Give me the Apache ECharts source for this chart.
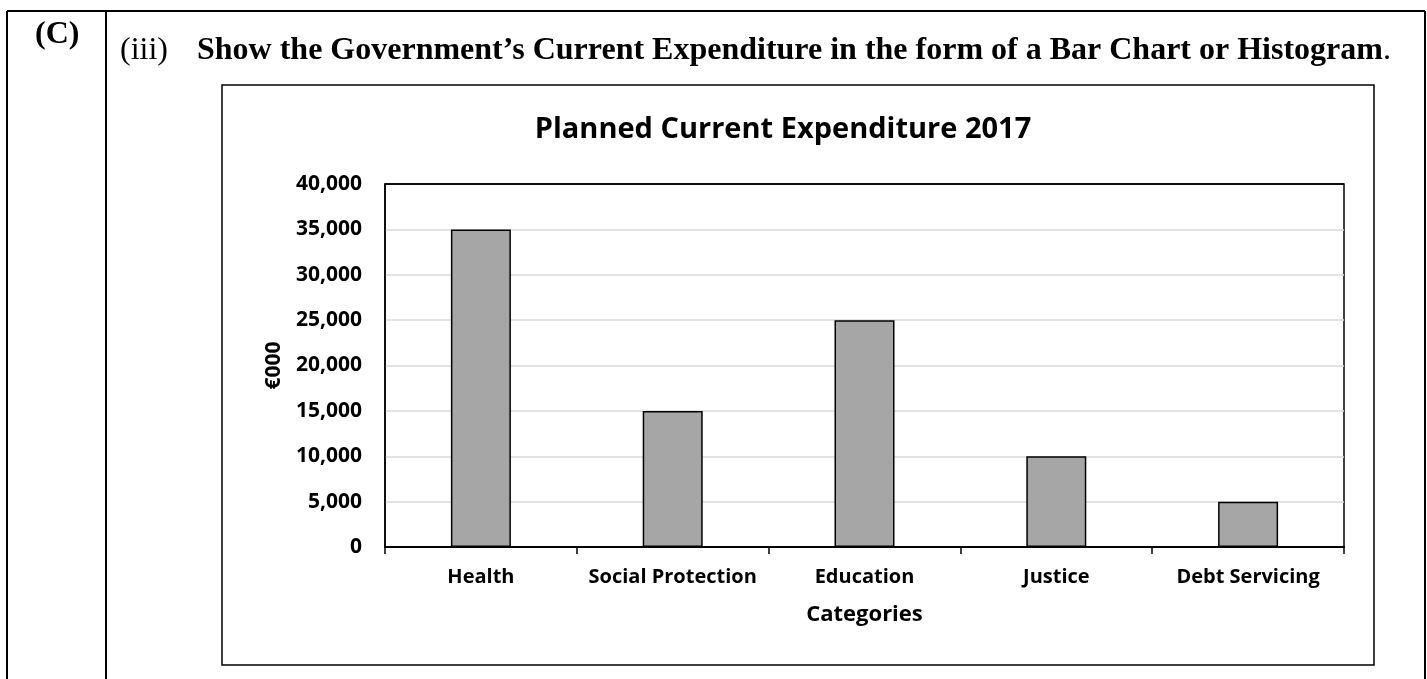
<!DOCTYPE html>
<html>
<head>
<meta charset="utf-8">
<script src="https://cdn.jsdelivr.net/npm/echarts@6/dist/echarts.min.js"></script>
<style>
html,body{margin:0;padding:0;background:#fff;}
#c{width:1427px;height:679px;}
</style>
</head>
<body>
<div id="c"></div>
<script>
const categories = ['Health', 'Social Protection', 'Education', 'Justice', 'Debt Servicing'];
const expenditure = [35000, 15000, 25000, 10000, 5000];
const chartTitle = 'Planned Current Expenditure 2017';
const yName = '€000';
const xName = 'Categories';
const sectionLabel = '(C)';
const partLabel = '(iii)';
const question = 'Show the Government\u2019s Current Expenditure in the form of a Bar Chart or Histogram';

const chart = echarts.init(document.getElementById('c'), null, {renderer: 'canvas'});
const sans = '"Open Sans", sans-serif';
const serif = '"Liberation Serif", "Times New Roman", serif';

chart.setOption({
  animation: false,
  backgroundColor: '#fff',
  title: {
    text: chartTitle,
    left: 778, top: 110, textAlign: 'center',
    textStyle: {fontFamily: sans, fontWeight: 'bold', fontSize: 29, color: '#000'}
  },
  grid: {
    left: 385, top: 184, right: 83, bottom: 132,
    show: true, borderColor: '#000', borderWidth: 1.5, backgroundColor: 'transparent'
  },
  xAxis: {
    type: 'category',
    data: categories,
    name: xName,
    nameLocation: 'middle',
    nameGap: 57,
    nameTextStyle: {fontFamily: sans, fontWeight: 'bold', fontSize: 22, color: '#000'},
    axisLine: {lineStyle: {color: '#000', width: 2}},
    axisTick: {show: true, alignWithLabel: false, length: 7, lineStyle: {color: '#000', width: 1.5}},
    axisLabel: {fontFamily: sans, fontWeight: 'bold', fontSize: 20, color: '#000', margin: 20, interval: 0}
  },
  yAxis: {
    type: 'value',
    min: 0, max: 40000, interval: 5000,
    name: yName,
    nameLocation: 'middle',
    nameRotate: 90,
    nameGap: 100,
    nameTextStyle: {fontFamily: sans, fontWeight: 'bold', fontSize: 21, color: '#000'},
    axisLine: {show: true, lineStyle: {color: '#000', width: 1.5}},
    axisTick: {show: false},
    splitLine: {showMaxLine: false, lineStyle: {color: '#D9D9D9', width: 1.5}},
    axisLabel: {
      fontFamily: sans, fontWeight: 'bold', fontSize: 21, color: '#000', margin: 23,
      formatter: v => v.toLocaleString('en-US')
    }
  },
  series: [{
    type: 'bar',
    data: expenditure,
    barWidth: 60,
    itemStyle: {color: '#A6A6A6', borderColor: '#000', borderWidth: 1.5}
  }],
  graphic: [
    // table borders
    {type: 'line', shape: {x1: 7, y1: 11, x2: 1425, y2: 11}, style: {stroke: '#000', lineWidth: 2}},
    {type: 'line', shape: {x1: 7, y1: 11, x2: 7, y2: 679}, style: {stroke: '#000', lineWidth: 2}},
    {type: 'line', shape: {x1: 106, y1: 11, x2: 106, y2: 679}, style: {stroke: '#000', lineWidth: 2}},
    {type: 'line', shape: {x1: 1425, y1: 11, x2: 1425, y2: 679}, style: {stroke: '#000', lineWidth: 2}},
    // plot top border
    {type: 'line', shape: {x1: 385, y1: 184, x2: 1344, y2: 184}, style: {stroke: '#000', lineWidth: 1.5}, z: 10},
    // chart box
    {type: 'rect', shape: {x: 222, y: 85, width: 1152, height: 580}, style: {fill: 'none', stroke: '#000', lineWidth: 1.5}, z: -1},
    // texts
    {type: 'text', left: 35, top: 19, style: {text: sectionLabel, font: 'bold 32px ' + serif, fill: '#000'}},
    {type: 'text', left: 120, top: 35, style: {text: partLabel, font: '32px ' + serif, fill: '#000'}},
    {type: 'text', left: 197, top: 35, style: {
      rich: {b: {font: 'bold 32px ' + serif, fill: '#000'}, n: {font: '32px ' + serif, fill: '#000'}},
      text: '{b|' + question + '}{n|.}'
    }}
  ]
});
</script>
</body>
</html>
